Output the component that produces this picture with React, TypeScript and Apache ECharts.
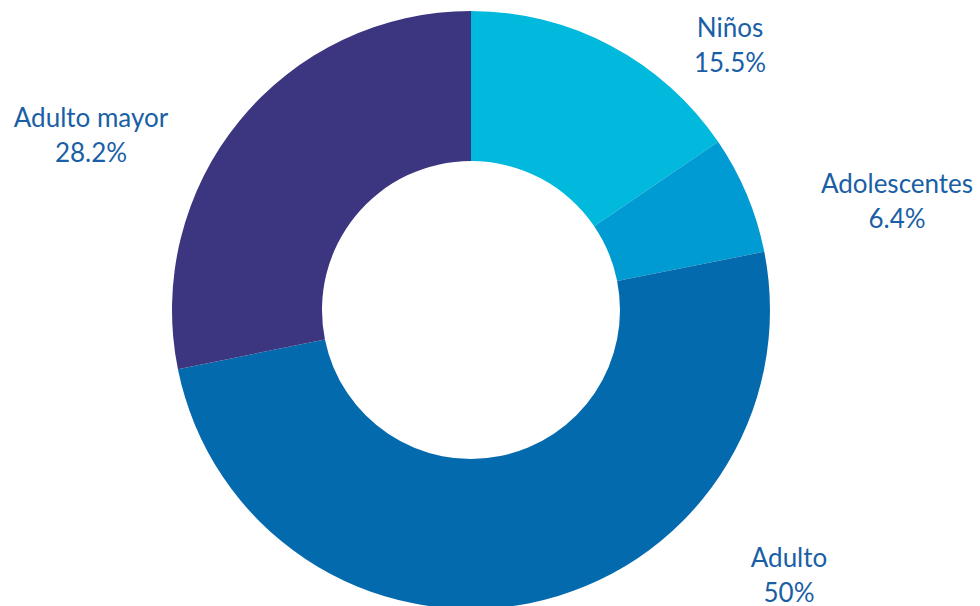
import React, { useEffect, useRef } from "react";
import * as echarts from "echarts";

const categories = ["Niños", "Adolescentes", "Adulto", "Adulto mayor"];
const values = [15.5, 6.4, 50, 28.2];
const colors = ["#00B9DC", "#009BD2", "#046AAE", "#3C3680"];
// label anchor centres (layout only)
const labelPos: [number, number][] = [
  [730, 44],
  [897, 200],
  [789, 574],
  [91, 134],
];

export default function App() {
  const ref = useRef<HTMLDivElement>(null);
  useEffect(() => {
    if (!ref.current) return;
    const chart = echarts.init(ref.current, undefined, { renderer: "svg" });
    chart.setOption({
      animation: false,
      backgroundColor: "#ffffff",
      series: [
        {
          type: "pie",
          center: [471, 310],
          radius: [149, 299],
          startAngle: 90,
          clockwise: true,
          avoidLabelOverlap: false,
          data: categories.map((name, i) => ({
            name,
            value: values[i],
            itemStyle: { color: colors[i] },
          })),
          label: {
            show: true,
            position: "outside",
            formatter: "{b}\n{c}%",
            color: "#1A5FA5",
            fontFamily: "Lato",
            fontSize: 26,
            lineHeight: 35,
            align: "center",
          },
          labelLine: { show: false },
          labelLayout: (params: any) => ({
            x: labelPos[params.dataIndex][0],
            y: labelPos[params.dataIndex][1],
            align: "center",
            verticalAlign: "middle",
          }),
          emphasis: { disabled: true },
        },
      ],
    });
    return () => chart.dispose();
  }, []);
  return (
    <div
      ref={ref}
      style={{ position: "fixed", left: 0, top: 0, width: 980, height: 606 }}
    />
  );
}
